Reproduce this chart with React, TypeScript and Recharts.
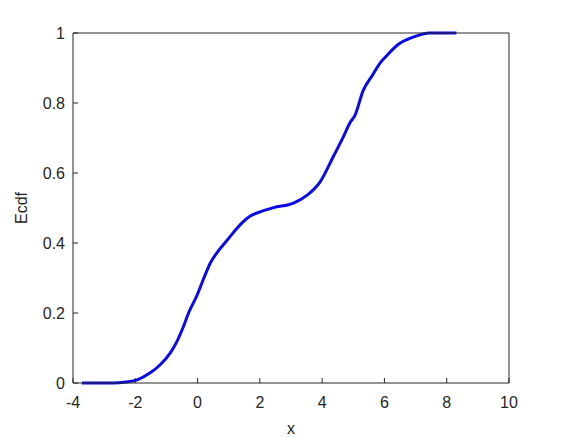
import React from 'react';
import { LineChart, Line, XAxis, YAxis } from 'recharts';

const xValues = [
  -3.71, -2.69, -2.3, -1.94, -1.52, -1.2, -0.875, -0.66, -0.45, -0.29, -0.02, 0.19, 0.41, 0.62,
  0.94, 1.42, 1.69, 2.01, 2.44, 3.08, 3.51, 3.93, 4.36, 4.68, 4.89, 5.05, 5.32, 5.62, 5.86,
  6.07, 6.44, 6.92, 7.46, 8.31,
];
const ecdfValues = [
  0, 0, 0.003, 0.009, 0.029, 0.052, 0.086, 0.119, 0.162, 0.2, 0.25, 0.297, 0.343, 0.372,
  0.407, 0.457, 0.477, 0.489, 0.501, 0.514, 0.536, 0.574, 0.647, 0.703, 0.743, 0.764, 0.836, 0.88, 0.914,
  0.935, 0.967, 0.988, 1.0, 1.0,
];
const xTicks = [-4, -2, 0, 2, 4, 6, 8, 10];
const yTicks = [0, 0.2, 0.4, 0.6, 0.8, 1];

const data = xValues.map((x, i) => ({ x, y: ecdfValues[i] }));

const AXIS = '#262626';
const FONT = { fontFamily: 'Liberation Sans, Arial, sans-serif', fontSize: 16, fill: AXIS };

export default function App() {
  return (
    <div style={{ position: 'absolute', left: 0, top: 0, background: '#fff' }}>
      <LineChart
        width={562}
        height={437}
        data={data}
        margin={{ top: 32, right: 52, bottom: 0, left: 0 }}
      >
        <XAxis
          dataKey="x"
          type="number"
          domain={[-4, 10]}
          ticks={xTicks}
          height={54}
          tickSize={-5}
          tickMargin={19}
          stroke={AXIS}
          tick={FONT}
          label={{ value: 'x', position: 'center', dy: 18, style: FONT }}
        />
        <XAxis
          xAxisId="top"
          orientation="top"
          dataKey="x"
          type="number"
          domain={[-4, 10]}
          ticks={xTicks}
          height={1}
          tickSize={-5}
          tick={false}
          stroke={AXIS}
        />
        <YAxis
          type="number"
          domain={[0, 1]}
          ticks={yTicks}
          width={73}
          tickSize={-5}
          tickMargin={13}
          stroke={AXIS}
          tick={FONT}
          label={{ value: 'Ecdf', angle: -90, position: 'center', dx: -15, style: FONT }}
        />
        <YAxis
          yAxisId="right"
          orientation="right"
          type="number"
          domain={[0, 1]}
          ticks={yTicks}
          width={1}
          tickSize={-5}
          tick={false}
          stroke={AXIS}
        />
        <Line
          dataKey="y"
          type="monotone"
          stroke="#0a0ae8"
          strokeWidth={3}
          dot={false}
          isAnimationActive={false}
        />
      </LineChart>
    </div>
  );
}
